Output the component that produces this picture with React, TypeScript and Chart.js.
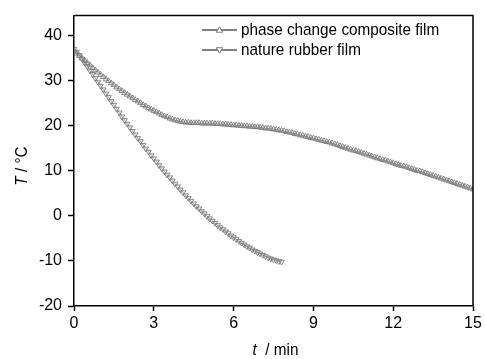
import React, { useEffect, useRef } from "react";
import { Chart, registerables } from "chart.js";

Chart.register(...registerables);

const TIME_STEP = 0.1; // min, sampling interval

const phaseChangeFilm = [
  36.5, 36.0, 35.5, 34.9, 34.4, 33.9, 33.4, 32.8, 32.3, 31.8,
  31.3, 30.8, 30.3, 29.9, 29.4, 29.0, 28.5, 28.1, 27.7, 27.3,
  26.9, 26.5, 26.1, 25.7, 25.4, 25.0, 24.6, 24.3, 23.9, 23.6,
  23.3, 23.0, 22.7, 22.4, 22.1, 21.9, 21.6, 21.4, 21.2, 21.1,
  20.9, 20.8, 20.7, 20.7, 20.6, 20.6, 20.6, 20.6, 20.5, 20.5,
  20.5, 20.5, 20.5, 20.4, 20.4, 20.4, 20.3, 20.3, 20.2, 20.2,
  20.1, 20.1, 20.0, 20.0, 19.9, 19.9, 19.8, 19.8, 19.7, 19.7,
  19.6, 19.5, 19.4, 19.4, 19.3, 19.2, 19.1, 19.0, 18.9, 18.8,
  18.6, 18.5, 18.4, 18.2, 18.1, 17.9, 17.8, 17.6, 17.5, 17.3,
  17.2, 17.0, 16.9, 16.7, 16.6, 16.4, 16.3, 16.1, 15.9, 15.7,
  15.5, 15.3, 15.1, 14.9, 14.7, 14.5, 14.4, 14.2, 14.0, 13.8,
  13.6, 13.4, 13.2, 13.0, 12.8, 12.6, 12.4, 12.3, 12.1, 11.9,
  11.7, 11.5, 11.3, 11.1, 11.0, 10.8, 10.6, 10.4, 10.2, 10.0,
  9.9, 9.7, 9.5, 9.3, 9.1, 8.9, 8.7, 8.5, 8.3, 8.1,
  7.9, 7.7, 7.5, 7.3, 7.1, 6.9, 6.7, 6.5, 6.3, 6.1,
  5.9,
];

const rubberFilm = [
  37.0, 36.4, 35.6, 34.8, 33.9, 33.1, 32.2, 31.4, 30.5, 29.7,
  28.8, 28.0, 27.1, 26.3, 25.4, 24.6, 23.7, 22.9, 22.0, 21.2,
  20.4, 19.6, 18.8, 18.0, 17.2, 16.5, 15.7, 14.9, 14.2, 13.4,
  12.7, 12.0, 11.2, 10.5, 9.8, 9.1, 8.5, 7.8, 7.1, 6.5,
  5.8, 5.2, 4.5, 3.9, 3.3, 2.7, 2.1, 1.6, 1.0, 0.5,
  -0.1, -0.6, -1.1, -1.6, -2.1, -2.6, -3.0, -3.5, -3.9, -4.4,
  -4.8, -5.2, -5.6, -6.0, -6.4, -6.8, -7.1, -7.5, -7.8, -8.1,
  -8.4, -8.7, -9.0, -9.3, -9.5, -9.7, -9.9, -10.1, -10.2,
];

const seriesNames = ["phase change composite film", "nature rubber film"];
const xTicks = [0, 3, 6, 9, 12, 15];
const yTicks = [-20, -10, 0, 10, 20, 30, 40];

const FONT = '"Liberation Sans", Arial, sans-serif';
const MARKER = "#7a7a7a";
const CONDENSE = 0.9;

const toPoints = (vals: number[]) =>
  vals.map((v, i) => ({ x: Math.round(i * TIME_STEP * 10) / 10, y: v }));

const decorPlugin = {
  id: "decor",
  afterDraw(chart: any) {
    const { ctx, chartArea } = chart;
    const { left, right, top, bottom } = chartArea;
    ctx.save();
    ctx.strokeStyle = "#000";
    ctx.lineWidth = 1.5;
    ctx.beginPath();
    ctx.moveTo(left, top);
    ctx.lineTo(right, top);
    ctx.lineTo(right, bottom);
    ctx.stroke();

    const drawMixed = (x: number, y: number, italic: string, rest: string) => {
      ctx.font = `italic 17px ${FONT}`;
      const w1 = ctx.measureText(italic).width;
      ctx.font = `17px ${FONT}`;
      const w2 = ctx.measureText(rest).width;
      ctx.save();
      ctx.translate(x, y);
      ctx.scale(CONDENSE, 1);
      const start = -(w1 + w2) / 2;
      ctx.textBaseline = "middle";
      ctx.textAlign = "left";
      ctx.fillStyle = "#000";
      ctx.font = `italic 17px ${FONT}`;
      ctx.fillText(italic, start, 0);
      ctx.font = `17px ${FONT}`;
      ctx.fillText(rest, start + w1, 0);
      ctx.restore();
    };
    drawMixed((left + right) / 2 + 2, 350, "t", "  / min");
    ctx.save();
    ctx.translate(22, 166);
    ctx.rotate(-Math.PI / 2);
    drawMixed(0, 0, "T", " / \u00B0C");
    ctx.restore();

    const rows = [
      { y: 30, rot: 0, label: seriesNames[0] },
      { y: 50, rot: 180, label: seriesNames[1] },
    ];
    rows.forEach((r) => {
      ctx.strokeStyle = "#000";
      ctx.lineWidth = 1;
      ctx.beginPath();
      ctx.moveTo(202, r.y);
      ctx.lineTo(237, r.y);
      ctx.stroke();
      ctx.fillStyle = "#fff";
      ctx.strokeStyle = MARKER;
      ctx.lineWidth = 1;
      ctx.beginPath();
      const s = 3.2;
      if (r.rot === 0) {
        ctx.moveTo(219.5, r.y - s);
        ctx.lineTo(219.5 + s, r.y + s * 0.7);
        ctx.lineTo(219.5 - s, r.y + s * 0.7);
      } else {
        ctx.moveTo(219.5, r.y + s);
        ctx.lineTo(219.5 + s, r.y - s * 0.7);
        ctx.lineTo(219.5 - s, r.y - s * 0.7);
      }
      ctx.closePath();
      ctx.fill();
      ctx.stroke();
      ctx.save();
      ctx.translate(241, r.y);
      ctx.scale(CONDENSE, 1);
      ctx.fillStyle = "#000";
      ctx.font = `17px ${FONT}`;
      ctx.textAlign = "left";
      ctx.textBaseline = "middle";
      ctx.fillText(r.label, 0, 0);
      ctx.restore();
    });
    ctx.restore();
  },
};

export default function App() {
  const ref = useRef<HTMLCanvasElement | null>(null);
  useEffect(() => {
    if (!ref.current) return;
    const common = {
      borderColor: "#6a6a6a",
      borderWidth: 0.6,
      pointStyle: "triangle",
      pointRadius: 3.2,
      pointBorderWidth: 0.9,
      pointBorderColor: MARKER,
      pointBackgroundColor: "rgba(0,0,0,0)",
      tension: 0,
    };
    const chart = new Chart(ref.current, {
      type: "line",
      data: {
        datasets: [
          { ...common, label: seriesNames[0], data: toPoints(phaseChangeFilm) },
          { ...common, label: seriesNames[1], data: toPoints(rubberFilm), pointRotation: 180 },
        ],
      },
      options: {
        animation: false,
        responsive: false,
        devicePixelRatio: 1,
        layout: { padding: { top: 12, right: 12, left: 0, bottom: 0 } },
        plugins: { legend: { display: false }, tooltip: { enabled: false } },
        scales: {
          x: {
            type: "linear",
            min: 0,
            max: 15,
            afterBuildTicks: (s: any) => {
              s.ticks = xTicks.map((v) => ({ value: v }));
            },
            afterFit: (s: any) => {
              s.height = 53;
            },
            ticks: { color: "#000", font: { family: FONT, size: 16 }, padding: 3, maxRotation: 0 },
            grid: { display: true, drawOnChartArea: false, drawTicks: true, tickLength: 5, color: "#000", tickWidth: 1.5 },
            border: { display: true, color: "#000", width: 1.5 },
          },
          y: {
            type: "linear",
            min: -20,
            max: 44.4,
            afterBuildTicks: (s: any) => {
              s.ticks = yTicks.map((v) => ({ value: v }));
            },
            afterFit: (s: any) => {
              s.width = 74;
            },
            ticks: { color: "#000", font: { family: FONT, size: 16 }, padding: 6 },
            grid: { display: true, drawOnChartArea: false, drawTicks: true, tickLength: 6, color: "#000", tickWidth: 1.5 },
            border: { display: true, color: "#000", width: 1.5 },
          },
        },
      } as any,
      plugins: [decorPlugin],
    });
    return () => chart.destroy();
  }, []);
  return (
    <div style={{ position: "absolute", left: 0, top: 0, width: 485, height: 359, background: "#fff" }}>
      <canvas ref={ref} width={485} height={359} />
    </div>
  );
}
